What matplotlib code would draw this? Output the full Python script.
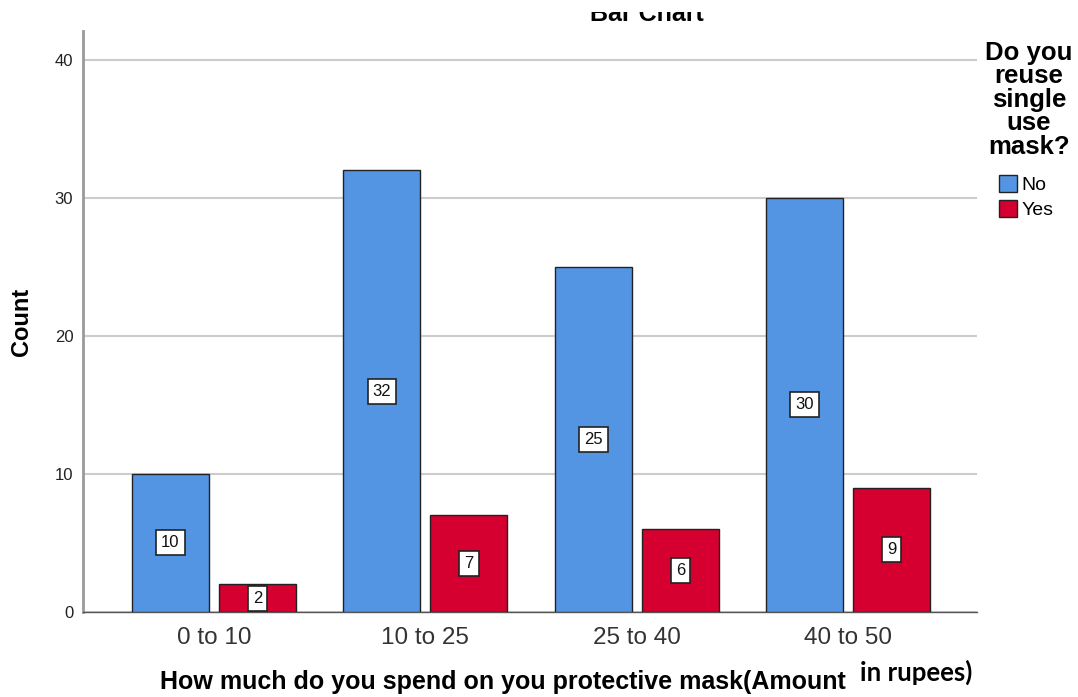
import matplotlib
matplotlib.use("Agg")
import matplotlib.pyplot as plt
from matplotlib.patches import Patch
from matplotlib.transforms import Bbox
import numpy as np

plt.rcParams['font.family'] = ['Liberation Sans', 'DejaVu Sans']

categories = ["0 to 10", "10 to 25", "25 to 40", "40 to 50"]
series_names = ["No", "Yes"]
no_counts = [10, 32, 25, 30]
yes_counts = [2, 7, 6, 9]
y_ticks = [0, 10, 20, 30, 40]

blue = "#5495e3"
red = "#d5002f"

W, H = 1078, 697
fig = plt.figure(figsize=(W / 100, H / 100), dpi=100)
ax = fig.add_axes([83 / W, (H - 612) / H, (977 - 83) / W, (612 - 31) / H])

x = np.arange(len(categories))
width = 0.364
offset = 0.206

ax.bar(x - offset, no_counts, width, color=blue, edgecolor="#222222",
       linewidth=1.0, zorder=3, label=series_names[0])
ax.bar(x + offset, yes_counts, width, color=red, edgecolor="#222222",
       linewidth=1.0, zorder=3, label=series_names[1])

box = dict(boxstyle="square,pad=0.3", facecolor="white", edgecolor="#222222", linewidth=1.2)
for xpos, vals in ((x - offset, no_counts), (x + offset, yes_counts)):
    for xi, v in zip(xpos, vals):
        ax.text(xi, v / 2, str(v), ha="center", va="center", fontsize=12,
                bbox=box, zorder=5, color="#111111")

ax.set_xlim(-0.62, 3.61)
ax.set_ylim(0, 42.1)
ax.set_yticks(y_ticks)
ax.set_xticks(x)
ax.set_xticklabels(categories, fontsize=17.5, color="#333333")
ax.tick_params(axis="x", length=0, pad=11)
ax.tick_params(axis="y", length=0, pad=7, labelsize=12, labelcolor="#222222")

ax.grid(axis="y", color="#cccccc", linewidth=1.5, zorder=0)
ax.set_axisbelow(True)
for s in ("top", "right"):
    ax.spines[s].set_visible(False)
ax.spines["left"].set_color("#999999")
ax.spines["left"].set_linewidth(2.0)
ax.spines["bottom"].set_color("#555555")
ax.spines["bottom"].set_linewidth(1.0)

ax.set_ylabel("Count", fontsize=17, fontweight="bold")
ax.yaxis.set_label_coords(-50 / (977 - 83), 0.5)

# Chart title, only its lower part shows below the top band of the canvas
title = fig.text(647 / W, (H - 21) / H, "Bar Chart", ha="center", va="baseline",
                 fontsize=18, fontweight="bold")
title.set_clip_box(Bbox.from_extents(0, 0, W, H - 12))
title.set_clip_on(True)

# Axis title in two parts
fig.text(160 / W, (H - 689) / H, "How much do you spend on you protective mask(Amount",
         ha="left", va="baseline", fontsize=18, fontweight="bold")
fig.text(860 / W, (H - 681) / H, "in rupees)", ha="left", va="baseline",
         fontsize=18.5, fontweight="bold", family=["Lato", "DejaVu Sans"])

# Legend
fig.text(1029 / W, (H - 41) / H, "Do you\nreuse\nsingle\nuse\nmask?", ha="center", va="top",
         fontsize=18.5, fontweight="bold", linespacing=0.97)
handles = [Patch(facecolor=blue, edgecolor="#222222", label=series_names[0]),
           Patch(facecolor=red, edgecolor="#222222", label=series_names[1])]
fig.legend(handles=handles, loc="upper left", bbox_to_anchor=(995 / W, (H - 171) / H),
           frameon=False, fontsize=14, handlelength=0.95, handleheight=0.95,
           handletextpad=0.2, labelspacing=0.3, borderpad=0.2, borderaxespad=0)

fig.savefig("out.png", dpi=100)
